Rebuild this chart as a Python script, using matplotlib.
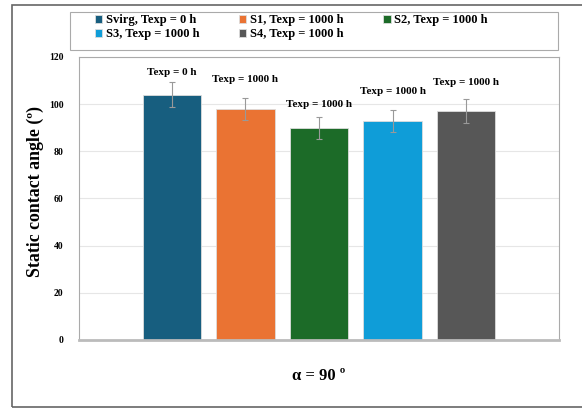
import numpy as np
import matplotlib.pyplot as plt
from matplotlib.patches import Rectangle

# data
series = ["Svirg, Texp = 0 h", "S1, Texp = 1000 h", "S2, Texp = 1000 h",
          "S3, Texp = 1000 h", "S4, Texp = 1000 h"]
bar_labels = ["Texp = 0 h", "Texp = 1000 h", "Texp = 1000 h",
              "Texp = 1000 h", "Texp = 1000 h"]
angles = [104, 98, 90, 93, 97]
errors = [5.4, 4.8, 4.6, 4.6, 5.0]
colors = ["#175E7F", "#EA7333", "#1C6B28", "#0F9DD8", "#575757"]
# how far above each bar its label sits (points)
label_gap = [16, 21, 17, 21, 21]

plt.rcParams['font.family'] = ['Liberation Serif', 'DejaVu Serif']
plt.rcParams['font.weight'] = 'bold'

fig = plt.figure(figsize=(5.82, 4.08), dpi=100)
ax = fig.add_axes([0.1357, 0.1667, 0.8248, 0.6936])

x = np.arange(len(series)) - 2
handles = []
for i in range(len(series)):
    b = ax.bar(x[i], angles[i], width=0.79, color=colors[i], edgecolor='#dddddd',
               linewidth=0.6, label=series[i], zorder=2)
    handles.append(b)
    ax.errorbar(x[i], angles[i], yerr=errors[i], ecolor='#999999',
                elinewidth=0.8, capsize=2, capthick=0.8, fmt='none', zorder=3)
    ax.annotate(bar_labels[i], (x[i], angles[i]), xytext=(0, label_gap[i]),
                textcoords='offset points', ha='center', va='center',
                fontsize=8, fontweight='bold')

ax.set_xlim(-3.265, 3.265)
ax.set_ylim(0, 120)
ax.set_yticks(range(0, 121, 20))
ax.set_xticks([])
ax.tick_params(axis='y', length=0, labelsize=7, pad=11)
ax.yaxis.grid(True, color='#e6e6e6', linewidth=0.8, zorder=0)
ax.set_axisbelow(True)
for s in ['left', 'right', 'top']:
    ax.spines[s].set_color('#aaaaaa')
    ax.spines[s].set_linewidth(0.8)
ax.spines['bottom'].set_color('#bbbbbb')
ax.spines['bottom'].set_linewidth(2)

ax.set_ylabel("Static contact angle (º)", fontsize=12.8, fontweight='bold')
ax.yaxis.set_label_coords(-0.072, 0.523)
ax.set_xlabel("α = 90 º", fontsize=12, fontweight='bold', labelpad=20)

# legend filled row by row like the original
order = [0, 3, 1, 4, 2]
fig.legend([handles[k] for k in order], [series[k] for k in order],
           loc='upper left', bbox_to_anchor=(0.163, 0.9646),
           ncol=3, fontsize=9, frameon=False, handlelength=0.6,
           handleheight=0.6, handletextpad=0.3, borderpad=0,
           borderaxespad=0, labelspacing=0.15, columnspacing=3.15)
fig.add_artist(Rectangle((0.1203, 0.8775), 0.8385, 0.0931,
                         transform=fig.transFigure, fill=False,
                         edgecolor='#aaaaaa', linewidth=0.8))

# outer frame of the figure
fig.add_artist(Rectangle((0.021, 0.003), 1.2, 0.985, transform=fig.transFigure,
                         fill=False, edgecolor='#666666', linewidth=1.2))

fig.savefig("out.png", dpi=100)
